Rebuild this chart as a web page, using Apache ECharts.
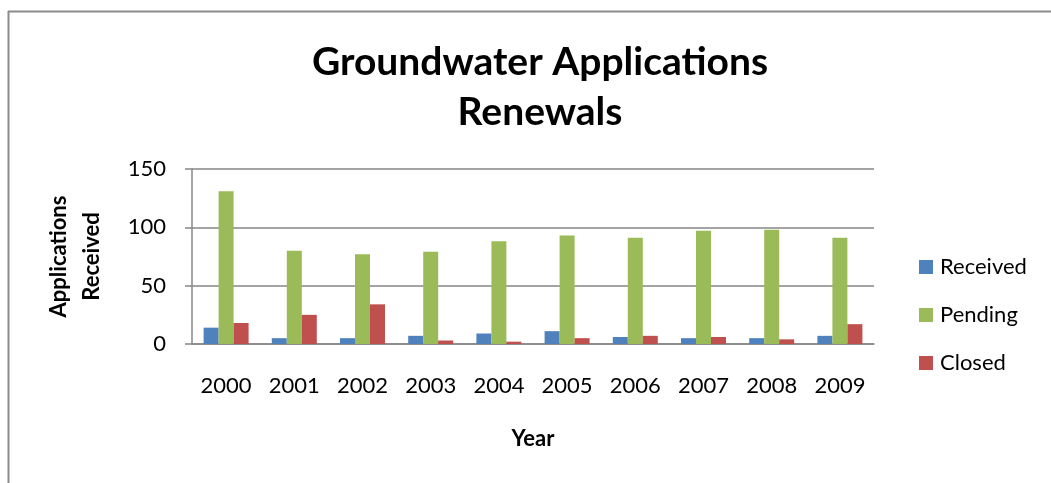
<!DOCTYPE html>
<html><head><meta charset="utf-8">
<script src="https://cdn.jsdelivr.net/npm/echarts@6/dist/echarts.min.js"></script>
<style>html,body{margin:0;padding:0;background:#fff}#c{width:1051px;height:483px}</style>
</head><body><div id="c"></div>
<script>
const categories = ['2000','2001','2002','2003','2004','2005','2006','2007','2008','2009'];
const received = [14, 5, 5, 7, 9, 11, 6, 5, 5, 7];
const pending = [131, 80, 77, 79, 88, 93, 91, 97, 98, 91];
const closed = [18, 25, 34, 3, 2, 5, 7, 6, 4, 17];
const yTicks = [0, 50, 100, 150];

const FONT = 'Lato, "Open Sans", sans-serif';
const chart = echarts.init(document.getElementById('c'), null, {renderer: 'canvas'});
chart.setOption({
  animation: false,
  backgroundColor: '#fff',
  title: {
    text: 'Groundwater Applications\nRenewals',
    left: 535, top: 32, textAlign: 'center',
    textStyle: {fontFamily: FONT, fontWeight: 'bold', fontSize: 39, lineHeight: 50, color: '#000'}
  },
  legend: {
    orient: 'vertical', left: 914, top: 251, itemGap: 26,
    itemWidth: 14, itemHeight: 14, icon: 'rect',
    textStyle: {fontFamily: FONT, fontSize: 22, color: '#000', padding: [0,0,0,2]},
    data: ['Received','Pending','Closed']
  },
  grid: {left: 192, right: 177, top: 169, bottom: 139, containLabel: false},
  xAxis: {
    type: 'category', data: categories,
    name: 'Year', nameLocation: 'middle', nameGap: 95,
    nameTextStyle: {fontFamily: FONT, fontWeight: 'bold', fontSize: 22, color: '#000', verticalAlign: 'middle'},
    axisLine: {lineStyle: {color: '#868686', width: 1.5}},
    axisTick: {show: false},
    axisLabel: {fontFamily: FONT, fontSize: 22, color: '#000', margin: 31}
  },
  yAxis: {
    type: 'value', min: 0, max: 150, interval: 50,
    name: 'Applications\nReceived', nameLocation: 'middle', nameRotate: 90, nameGap: 117,
    nameTextStyle: {fontFamily: FONT, fontWeight: 'bold', fontSize: 22, lineHeight: 33, color: '#000', verticalAlign: 'middle'},
    axisLine: {show: true, lineStyle: {color: '#868686', width: 1.5}},
    axisTick: {show: true, length: 7, lineStyle: {color: '#868686', width: 1.5}},
    splitLine: {lineStyle: {color: '#868686', width: 1.5}},
    axisLabel: {fontFamily: FONT, fontSize: 22, color: '#000', margin: 26,
      formatter: v => yTicks.includes(v) ? String(v) : ''}
  },
  series: [
    {name: 'Received', type: 'bar', data: received, barWidth: 15, barGap: '0%', itemStyle: {color: '#4F81BD'}},
    {name: 'Pending', type: 'bar', data: pending, barWidth: 15, barGap: '0%', itemStyle: {color: '#9BBB59'}},
    {name: 'Closed', type: 'bar', data: closed, barWidth: 15, barGap: '0%', itemStyle: {color: '#C0504D'}}
  ],
  graphic: [
    {type: 'line', shape: {x1: 8, y1: 11.5, x2: 1051, y2: 11.5}, style: {stroke: '#8c8c8c', lineWidth: 2}},
    {type: 'line', shape: {x1: 8.5, y1: 11, x2: 8.5, y2: 483}, style: {stroke: '#8c8c8c', lineWidth: 2}}
  ]
});
</script></body></html>
